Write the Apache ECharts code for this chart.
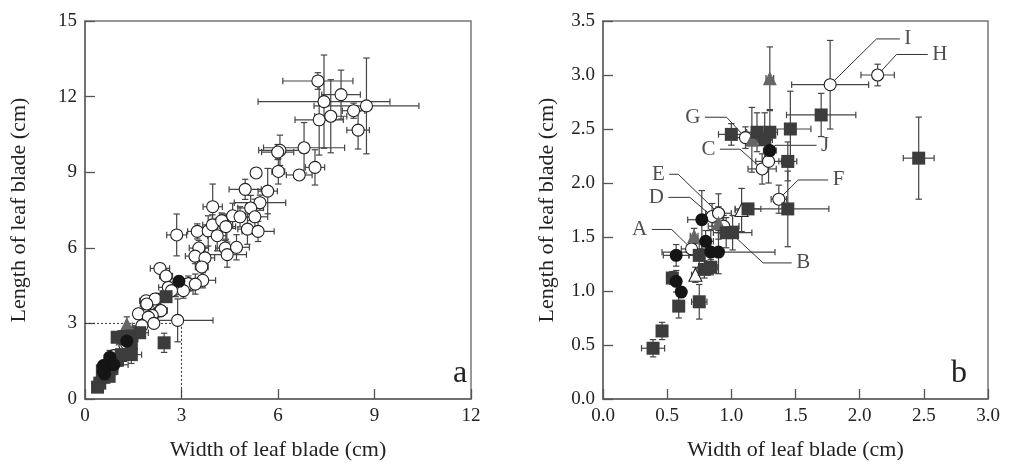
<!DOCTYPE html>
<html><head><meta charset="utf-8">
<script src="https://cdn.jsdelivr.net/npm/echarts@6/dist/echarts.min.js"></script>
<style>html,body{margin:0;padding:0;background:#fff}#c{width:1011px;height:466px}</style>
</head><body><div id="c"></div>
<script>
// [x, y, xErr, yErr]  (cm)
const openCirclesA = [
[7.24,12.62,1.09,0.33],[7.43,11.80,2.05,1.85],[7.96,12.08,0.6,0.97],[8.75,11.63,1.63,1.9],
[8.35,11.44,0.35,0.3],[7.28,11.08,0.75,1.4],[7.64,11.22,0.5,1.45],[8.49,10.67,0.35,0.75],
[6.81,9.97,1.26,1.0],[6.06,9.87,0.66,0.6],[5.99,9.80,0.5,0.3],[7.15,9.19,0.3,0.7],
[6.66,8.89,0.4,0.2],[6.01,9.03,0.2,0.5],[5.32,8.97,0.15,0.2],[4.98,8.32,0.5,0.4],
[5.68,8.25,0.3,0.9],[5.44,7.79,0.8,0.3],[2.85,6.51,0.31,0.83],[3.49,6.65,0.3,0.3],
[3.97,7.63,0.3,0.9],[3.83,6.67,0.4,0.6],[3.96,6.91,0.3,0.4],[4.25,7.08,0.2,0.3],
[4.11,6.48,0.3,0.6],[4.38,6.84,0.3,0.5],[4.59,7.27,0.4,0.5],[4.82,7.23,0.3,0.4],
[5.15,7.58,0.4,0.5],[5.28,7.23,0.4,0.7],[5.05,6.74,0.3,0.6],[5.38,6.65,0.5,0.4],
[3.54,5.99,0.3,0.3],[3.42,5.67,0.3,0.3],[3.73,5.60,0.3,0.4],[3.63,5.24,0.2,0.4],
[4.36,5.99,0.3,0.3],[4.42,5.73,0.6,0.5],[4.71,6.02,0.4,0.5],[3.66,4.71,0.4,0.3],
[2.33,5.18,0.3,0.2],[2.52,4.88,0.2,0.3],[3.21,4.58,0.3,0.3],[3.43,4.56,0.3,0.4],
[2.59,4.43,0.3,0.3],[2.82,4.36,0.2,0.3],[3.06,4.30,0.3,0.3],[2.69,4.30,0.2,0.2],
[2.23,3.97,0.2,0.2],[1.90,3.90,0.2,0.2],[2.18,3.97,0.2,0.2],[1.92,3.77,0.2,0.2],
[2.33,3.49,0.2,0.2],[2.36,3.51,0.2,0.2],[2.09,3.32,0.2,0.2],[1.66,3.38,0.15,0.2],
[1.97,3.25,0.2,0.2],[2.88,3.12,1.1,0.85]
];
const extraBlackA = [[2.92,4.67,0.15,0.2]];
const extraSquaresA = [[2.52,4.06,0.1,0.15]];

const squaresB = [
[0.39,0.47,0.09,0.08],[0.46,0.63,0.03,0.08],[0.59,0.86,0.03,0.11],[0.54,1.12,0.04,0.06],
[0.75,0.90,0.06,0.16],[0.75,1.33,0.08,0.12],[0.79,1.20,0.05,0.08],[0.84,1.22,0.05,0.07],
[0.96,1.54,0.06,0.14],[1.01,1.54,0.15,0.16],[1.13,1.76,0.10,0.05],[1.00,2.45,0.10,0.10],
[1.20,2.47,0.08,0.18],[1.30,2.47,0.06,0.2],[1.26,2.40,0.06,0.25],[1.46,2.50,0.16,0.35],
[1.70,2.63,0.27,0.2],[1.44,2.20,0.07,0.18],[1.44,1.76,0.32,0.35],[2.46,2.23,0.12,0.38]
];
const blackCirclesB = [
[0.77,1.66,0.11,0.27],[0.80,1.46,0.06,0.1],[0.57,1.33,0.10,0.1],[0.84,1.36,0.08,0.2],
[0.90,1.36,0.44,0.2],[0.57,1.09,0.03,0.1],[0.61,0.99,0.02,0.03],[1.30,2.30,0.05,0.1]
];
const grayTrianglesB = [[0.71,1.51,0.03,0.07],[0.90,1.63,0.05,0.15],[1.16,2.40,0.05,0.3],[1.30,2.97,0.03,0.29]];
const openTrianglesB = [[1.08,1.75,0.05,0.2],[0.72,1.15,0.03,0.07]];
const labelNames = ['A','B','C','D','E','F','G','H','I','J'];
const openCirclesB = [
[0.69,1.39,0.08,0.06],[0.94,1.60,0.12,0.10],[1.24,2.13,0.11,0.14],[0.85,1.69,0.08,0.12],
[0.90,1.72,0.10,0.18],[1.37,1.85,0.06,0.13],[1.11,2.42,0.08,0.10],[2.14,3.00,0.13,0.10],
[1.77,2.91,0.30,0.41],[1.29,2.20,0.10,0.20]
];
// leader lines: [text end, elbow] in data units; last point is the labelled circle
const labelEnds   = [[0.38,1.57],[1.47,1.26],[0.911,2.313],[0.509,1.867],[0.516,2.081],[1.755,2.028],[0.794,2.609],[2.531,3.19],[2.313,3.334],[1.664,2.349]];
const labelElbows = [[0.535,1.57],[1.247,1.26],[1.067,2.313],[0.677,1.867],[0.586,2.081],[1.521,2.028],[0.963,2.609],[2.287,3.19],[2.131,3.334],[1.34,2.349]];
const labelSides  = ['left','right','left','left','left','right','left','right','right','right'];

const xTicksA = [0,3,6,9,12], yTicksA=[0,3,6,9,12,15];
const FONT = 'Liberation Serif';
const ERR = '#444';

function errSeries(idx, data, color){
  return {type:'custom', xAxisIndex:idx, yAxisIndex:idx, z:1, silent:true, data:data,
    renderItem:function(p, api){
      const x=api.value(0), y=api.value(1), ex=api.value(2), ey=api.value(3);
      const l=api.coord([x-ex,y]), r=api.coord([x+ex,y]), t=api.coord([x,y+ey]), b=api.coord([x,y-ey]);
      const c=3.2, st={stroke:color, lineWidth:1.2};
      const L=(x1,y1,x2,y2)=>({type:'line', shape:{x1,y1,x2,y2}, style:st});
      return {type:'group', children:[
        L(l[0],l[1],r[0],r[1]), L(t[0],t[1],b[0],b[1]),
        L(l[0],l[1]-c,l[0],l[1]+c), L(r[0],r[1]-c,r[0],r[1]+c),
        L(t[0]-c,t[1],t[0]+c,t[1]), L(b[0]-c,b[1],b[0]+c,b[1])
      ]};
    }};
}
function pts(idx, data, symbol, size, fill, stroke, z){
  return {type:'scatter', xAxisIndex:idx, yAxisIndex:idx, z:z, silent:true,
    symbol:symbol, symbolSize:size, data:data.map(d=>[d[0],d[1]]),
    itemStyle:{color:fill, borderColor:stroke, borderWidth: stroke?1.1:0, opacity:1}};
}
function panel(idx, open, squares, blacks, grays, openTri){
  const all = open.concat(squares, blacks, grays, openTri);
  return [
    errSeries(idx, all, ERR),
    pts(idx, open, 'circle', 12, '#fff', '#222', 3),
    pts(idx, openTri, 'triangle', 13, '#fff', '#222', 4),
    pts(idx, grays, 'triangle', 14, '#666', null, 4),
    pts(idx, squares, 'rect', 13, '#3c3c3c', null, 5),
    pts(idx, blacks, 'circle', 13, '#151515', null, 6)
  ];
}
function axisCommon(){
  return {
    axisLine:{show:true, onZero:false, lineStyle:{color:'#666', width:1.5}},
    axisTick:{show:true, inside:true, length:10, lineStyle:{color:'#555', width:1.3}},
    axisLabel:{fontFamily:FONT, fontSize:19, color:'#222', margin:8},
    splitLine:{show:false},
    nameLocation:'middle',
    nameTextStyle:{fontFamily:FONT, fontSize:22, color:'#222'}
  };
}
const series = [];
series.push(...panel(0, openCirclesA.concat(openCirclesB), squaresB.concat(extraSquaresA), blackCirclesB.concat(extraBlackA), grayTrianglesB, openTrianglesB));
series.push({type:'line', xAxisIndex:0, yAxisIndex:0, z:2, silent:true, symbol:'none',
  data:[[0,3],[3,3],[3,0]], lineStyle:{color:'#333', width:1, type:[2,2]}});
series.push(...panel(1, openCirclesB, squaresB, blackCirclesB, grayTrianglesB, openTrianglesB));
labelNames.forEach((n,i)=>{
  series.push({type:'line', xAxisIndex:1, yAxisIndex:1, z:2, silent:true, symbol:'none',
    data:[labelEnds[i], labelElbows[i], [openCirclesB[i][0], openCirclesB[i][1]]],
    lineStyle:{color:'#333', width:1}});
});
series.push({type:'scatter', xAxisIndex:1, yAxisIndex:1, z:7, silent:true, symbolSize:1,
  itemStyle:{color:'rgba(0,0,0,0)'},
  data:labelNames.map((n,i)=>({name:n, value:labelEnds[i],
    label:{show:true, position:labelSides[i], distance:4, formatter:n, fontFamily:FONT, fontSize:21, color:'#222'}}))});

const chart = echarts.init(document.getElementById('c'), null, {renderer:'canvas'});
const fmt1 = v=>v.toFixed(1);
chart.setOption({
  animation:false,
  grid:[
    {left:85, top:21, width:386, height:382, show:true, borderColor:'#777', borderWidth:1.5, backgroundColor:'transparent'},
    {left:603, top:21, width:385, height:382, show:true, borderColor:'#777', borderWidth:1.5, backgroundColor:'transparent'}
  ],
  xAxis:[
    Object.assign(axisCommon(), {gridIndex:0, type:'value', min:xTicksA[0], max:xTicksA[xTicksA.length-1], interval:3, name:'Width of leaf blade (cm)', nameGap:40}),
    Object.assign(axisCommon(), {gridIndex:1, type:'value', min:0, max:3, interval:0.5, name:'Width of leaf blade (cm)', nameGap:40,
      axisLabel:{fontFamily:FONT, fontSize:19, color:'#222', margin:8, formatter:fmt1}})
  ],
  yAxis:[
    Object.assign(axisCommon(), {gridIndex:0, type:'value', min:yTicksA[0], max:yTicksA[yTicksA.length-1], interval:3, name:'Length of leaf blade (cm)', nameGap:55}),
    Object.assign(axisCommon(), {gridIndex:1, type:'value', min:0, max:3.5, interval:0.5, name:'Length of leaf blade (cm)', nameGap:45,
      axisLabel:{fontFamily:FONT, fontSize:19, color:'#222', margin:8, formatter:fmt1}})
  ],
  graphic:[
    {type:'text', left:453, top:358, style:{text:'a', font:'32px "Liberation Serif"', fill:'#222'}},
    {type:'text', left:951, top:358, style:{text:'b', font:'32px "Liberation Serif"', fill:'#222'}}
  ],
  series:series
});
</script></body></html>
